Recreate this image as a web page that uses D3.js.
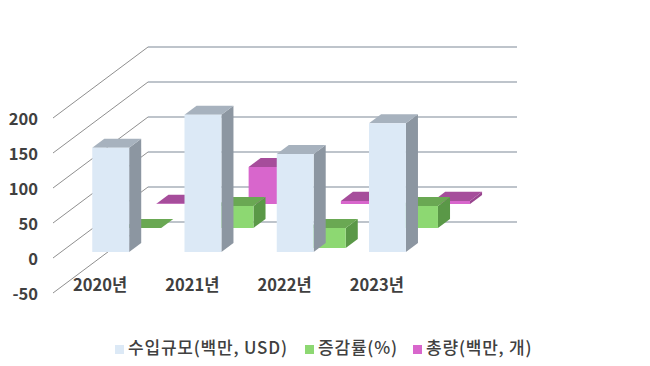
<!DOCTYPE html>
<html><head><meta charset="utf-8">
<script src="https://cdn.jsdelivr.net/npm/d3@7"></script>
<style>
html,body{margin:0;padding:0;background:#fff;}
svg{display:block;}
text{font-family:"Noto Sans CJK KR","Noto Sans",sans-serif;fill:#404040;}
</style></head>
<body>
<svg id="chart" width="650" height="366"></svg>
<script>
const categories = ["2020년", "2021년", "2022년", "2023년"];
const seriesNames = ["수입규모(백만, USD)", "증감률(%)", "총량(백만, 개)"];
const importValues = [149, 196, 140, 184];
const changeValues = [0, 31.5, -28.6, 31.4];
const totalValues = [0.5, 53, 4.5, 4.5];
const yTicks = [-50, 0, 50, 100, 150, 200];

const seriesData = [importValues, changeValues, totalValues];
const palette = [
  {front: "#dce9f6", side: "#8c96a1", top: "#a7b2be"},
  {front: "#8dd872", side: "#5a9847", top: "#6aa853"},
  {front: "#d866cc", side: "#98448e", top: "#a64d9b"}
];

const svg = d3.select("#chart");

// scales
const y = d3.scaleLinear().domain([-50, 200]).range([293, 118]);
const x = d3.scaleBand().domain(categories).range([53, 422]);
const depth = d3.scaleLinear().domain([0, 2]).range([0.085, 0.76]); // series row -> depth fraction
const DEPTH_DX = 95, DEPTH_DY = -71; // full depth projection
const barDepth = 0.127;
const barW = x.bandwidth() * 0.4;
const barShift = 3.5;

function P(xf, v, t) { return [xf + DEPTH_DX * t, y(v) + DEPTH_DY * t]; }
const poly = pts => pts.map(p => p.join(",")).join(" ");

// walls
const grid = svg.append("g");
yTicks.forEach(v => {
  const a = P(53, v, 1), b = P(422, v, 1);
  grid.append("line").attr("x1", a[0]).attr("y1", a[1]).attr("x2", b[0]).attr("y2", b[1])
    .attr("stroke", "#a9b1ba").attr("stroke-width", 1.3);
  const c = P(53, v, 0);
  grid.append("line").attr("x1", c[0]).attr("y1", c[1]).attr("x2", a[0]).attr("y2", a[1])
    .attr("stroke", "#8f8f8f").attr("stroke-width", 1);
});

// bars, back rows first
const bars = svg.append("g");
for (let s = seriesData.length - 1; s >= 0; s--) {
  const t0 = depth(s), t1 = t0 + barDepth;
  const col = palette[s];
  seriesData[s].forEach((val, i) => {
    const x0 = x(categories[i]) + (x.bandwidth() - barW) / 2 + barShift, x1 = x0 + barW;
    const vt = Math.max(0, val), vb = Math.min(0, val);
    const g = bars.append("g");
    g.append("polygon").attr("points", poly([P(x1, vb, t0), P(x1, vb, t1), P(x1, vt, t1), P(x1, vt, t0)]))
      .attr("fill", col.side);
    g.append("polygon").attr("points", poly([P(x0, vt, t0), P(x1, vt, t0), P(x1, vt, t1), P(x0, vt, t1)]))
      .attr("fill", col.top);
    g.append("polygon").attr("points", poly([P(x0, vb, t0), P(x1, vb, t0), P(x1, vt, t0), P(x0, vt, t0)]))
      .attr("fill", col.front);
  });
}

// y labels
svg.append("g").selectAll("text").data(yTicks).join("text")
  .attr("x", 38).attr("y", d => y(d) + 3)
  .attr("text-anchor", "end").attr("dominant-baseline", "middle")
  .attr("font-size", 16.5).attr("font-weight", 600)
  .text(d => d);

// x labels
svg.append("g").selectAll("text").data(categories).join("text")
  .attr("x", d => x(d) + x.bandwidth() / 2 + 1).attr("y", 287)
  .attr("text-anchor", "middle").attr("dominant-baseline", "middle")
  .attr("font-size", 16.5).attr("font-weight", 600)
  .text(d => d);

// legend
const legendX = [115, 305, 413];
const lg = svg.append("g");
seriesNames.forEach((n, i) => {
  lg.append("rect").attr("x", legendX[i]).attr("y", 345).attr("width", 9).attr("height", 9)
    .attr("fill", palette[i].front);
  lg.append("text").attr("x", legendX[i] + 13).attr("y", 349.5)
    .attr("dominant-baseline", "middle").attr("font-size", 17).attr("font-weight", 500)
    .attr("letter-spacing", 0.8)
    .text(n);
});
</script>
</body></html>
